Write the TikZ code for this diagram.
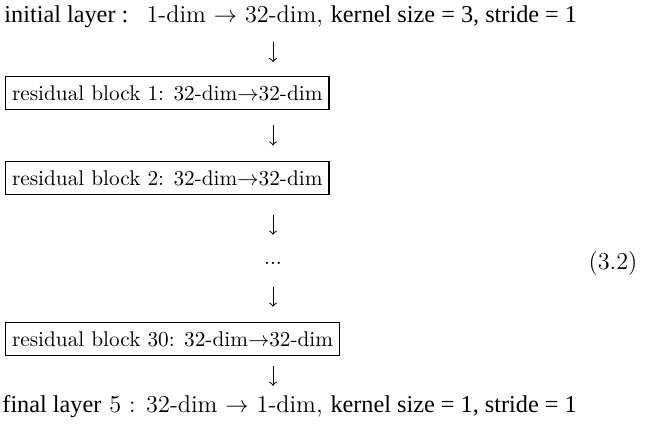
\documentclass[tikz,border=0pt]{standalone}
\usepackage{fontspec}
\newfontfamily\tms{Liberation Serif}
\usepackage{tikz}
\usetikzlibrary{calc,arrows}

\begin{document}
\begin{tikzpicture}[x=0.47pt,y=-0.47pt]
  \tikzset{blk/.style={draw,line width=0.6pt,anchor=west,inner xsep=3pt,minimum height=15.5pt},
           lyr/.style={anchor=west,inner sep=0pt,font=\fontsize{11.4pt}{13pt}\selectfont},
           flow/.style={-to,line width=0.45pt}}
  \useasboundingbox (0,0) rectangle (645,436);
  \coordinate (col) at (273,0);
  \node[lyr] (init) at (4,17) {{\tms initial layer :}\hspace{0.75em}1-dim $\to$ 32-dim,~{\tms kernel size = 3, stride = 1}};
  \node[blk] (b1) at (5,93) {residual block 1: 32-dim$\to$32-dim};
  \node[blk] (b2) at (5,178) {residual block 2: 32-dim$\to$32-dim};
  \node (dots) at (273,263) {...};
  \node[blk] (b30) at (5,339) {residual block 30: 32-dim$\to$32-dim};
  \node[lyr] (fin) at (2,407) {{\tms final layer} 5 : 32-dim $\to$ 1-dim,~{\tms kernel size = 1, stride = 1}};
  \node[font=\fontsize{11.4pt}{13pt}\selectfont] (eqno) at (613,263) {(3.2)};
  % arrows between the stages
  \draw[flow] ($(init.south -| col)!.5!(b1.north -| col)+(0,-10)$) -- ++(0,20);
  \draw[flow] ($(b1.south -| col)!.5!(b2.north -| col)+(0,-10)$) -- ++(0,20);
  \draw[flow] ($(b2.south -| col)!.5!(dots.north)+(0,-10)$) -- ++(0,20);
  \draw[flow] ($(dots.south)!.5!(b30.north -| col)+(0,-10)$) -- ++(0,20);
  \draw[flow] ($(b30.south -| col)!.5!(fin.north -| col)+(0,-10)$) -- ++(0,20);
\end{tikzpicture}
\end{document}
